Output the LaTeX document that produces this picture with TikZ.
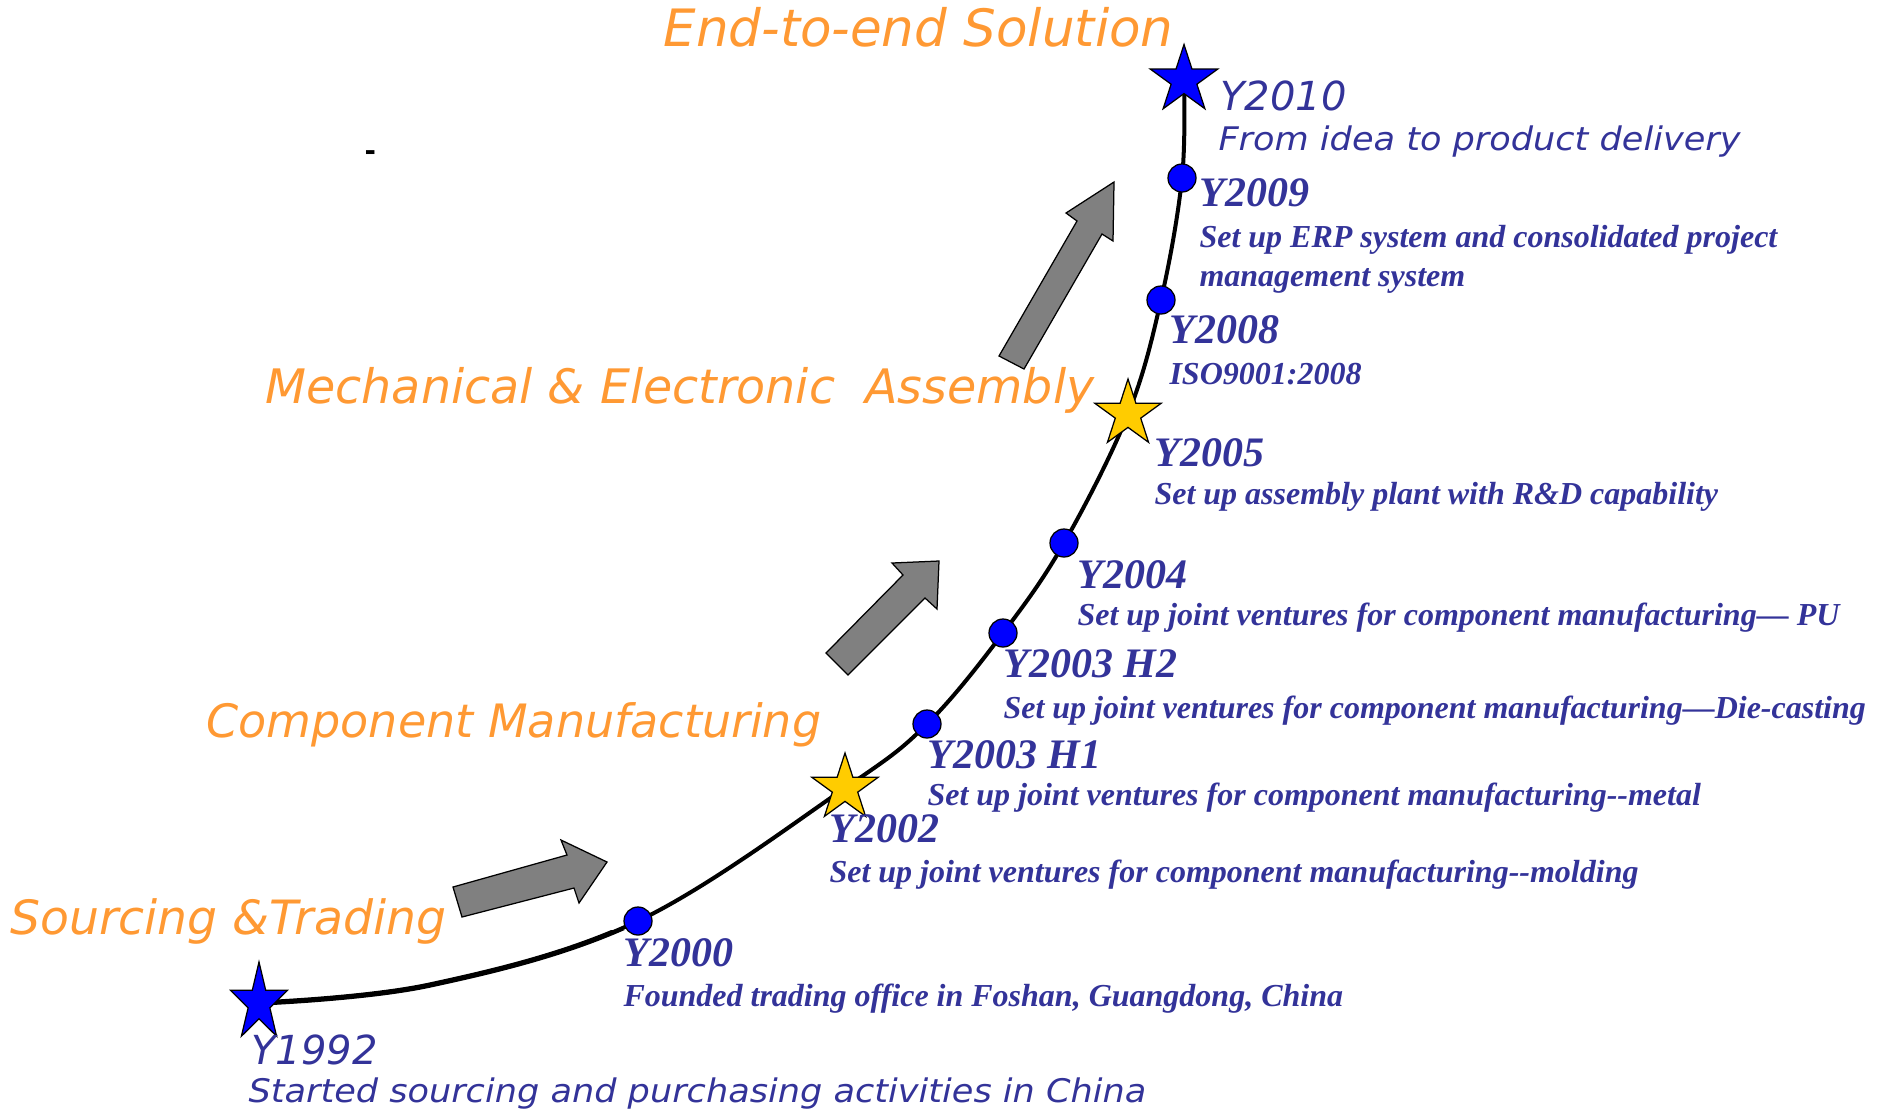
\documentclass[tikz,border=0pt]{standalone}
\usepackage{fontspec}
\setmainfont{Liberation Serif}
\newfontfamily\dvsans{DejaVu Sans}
\usetikzlibrary{shapes.geometric}
\definecolor{txtblue}{HTML}{333399}
\definecolor{orng}{HTML}{FF9933}
\definecolor{dotblue}{HTML}{0000FF}
\definecolor{stargold}{HTML}{FFCC00}
\definecolor{arrgray}{HTML}{808080}
\begin{document}
\begin{tikzpicture}[x=0.4pt,y=-0.4pt,
  yearlbl/.style={anchor=base west, inner sep=0pt, text=txtblue, font=\fontsize{16.8}{16.8}\selectfont\bfseries\itshape},
  desclbl/.style={anchor=base west, inner sep=0pt, text=txtblue, align=left, font=\fontsize{12.8}{15.6}\selectfont\bfseries\itshape},
  sansyear/.style={anchor=base west, inner sep=0pt, text=txtblue, font=\dvsans\fontsize{16}{16}\selectfont\itshape},
  sansdesc/.style={anchor=base west, inner sep=0pt, text=txtblue, xscale=1.08, font=\dvsans\fontsize{13}{13}\selectfont\itshape},
  phase/.style={anchor=base west, inner sep=0pt, text=orng, font=\dvsans\fontsize{#1}{#1}\selectfont\itshape},
  milestone/.style={circle, draw=black, line width=0.5pt, fill=dotblue, inner sep=0pt, minimum size=11.2pt},
  starmark/.style={star, star points=5, star point ratio=2.618, draw=black, line width=0.5pt, inner sep=0pt},
  bluestar/.style={starmark, fill=dotblue},
  goldstar/.style={starmark, fill=stargold},
  blockarrow/.style={fill=arrgray, draw=black, line width=0.5pt, line join=miter},
  timeline/.style={line width=1.6pt, draw=black}
]
\useasboundingbox (0,0) rectangle (1877,1108);

% positions along the time line
\coordinate (p1992) at (259,1003);
\coordinate (c1) at (430,985);
\coordinate (p2000) at (638,921);
\coordinate (p2002) at (845,788);
\coordinate (pH1) at (927,724);
\coordinate (pH2) at (1003,633);
\coordinate (p2004) at (1064,543);
\coordinate (p2005) at (1128,414);
\coordinate (p2008) at (1161,300);
\coordinate (p2009) at (1182,178);
\coordinate (p2010) at (1184,80);

\draw[timeline] plot[smooth, tension=0.6] coordinates {(p1992) (c1) (p2000) (p2002) (pH1) (pH2) (p2004) (p2005) (p2008) (p2009) (p2010)};
% the first stretch of the line is drawn heavier
\begin{scope}
  \clip (200,930) rectangle (640,1060);
  \draw[timeline, line width=2.1pt] plot[smooth, tension=0.6] coordinates {(p1992) (c1) (p2000) (p2002) (pH1) (pH2) (p2004) (p2005) (p2008) (p2009) (p2010)};
\end{scope}

% block arrows
\draw[blockarrow] (453,887) -- (567,855) -- (561,840) -- (607,862) -- (579,903) -- (574,888) -- (462,917) -- cycle;
\draw[blockarrow] (826,653) -- (903,575) -- (892,563) -- (939,561) -- (937,609) -- (925,598) -- (848,675) -- cycle;
\draw[blockarrow] (999,356) -- (1077,221) -- (1066,213) -- (1114,182) -- (1113,241) -- (1102,234) -- (1024,369) -- cycle;

% markers
\node[bluestar, minimum size=32.8pt, xscale=0.73] (s1992) at (p1992) {};
\node[milestone] (d2000) at (p2000) {};
\node[goldstar, minimum size=28pt] (s2002) at (p2002) {};
\node[milestone] (dH1) at (pH1) {};
\node[milestone] (dH2) at (pH2) {};
\node[milestone] (d2004) at (p2004) {};
\node[goldstar, minimum size=28pt] (s2005) at (p2005) {};
\node[milestone] (d2008) at (p2008) {};
\node[milestone] (d2009) at (p2009) {};
\node[bluestar, minimum size=28.4pt] (s2010) at (p2010) {};

% phase titles
\node[phase=20.6] (tEnd) at (663,46) {End-to-end Solution};
\node[phase=19.0] (tMech) at (265,403) {Mechanical \& Electronic\ \ Assembly};
\node[phase=18.4] (tComp) at (206,737) {Component Manufacturing};
\node[phase=18.9] (tSrc) at (10,934) {Sourcing \&Trading};

% stray mark
\node[anchor=base west, inner sep=0pt, font=\dvsans\bfseries\fontsize{11}{11}\selectfont] (dash) at (364,160) {-};

% labels
\node[sansyear] (y2010) at (1220,110) {Y2010};
\node[sansdesc] (l2010) at (1218,150) {From idea to product delivery};
\node[yearlbl] (y2009) at (1199,206) {Y2009};
\node[desclbl] (l2009) at (1199,286) {Set up ERP system and consolidated project\\management system};
\node[yearlbl] (y2008) at (1169,343) {Y2008};
\node[desclbl] (l2008) at (1169,384) {ISO9001:2008};
\node[yearlbl] (y2005) at (1154,466) {Y2005};
\node[desclbl] (l2005) at (1154,504) {Set up assembly plant with R\&D capability};
\node[yearlbl] (y2004) at (1077,588) {Y2004};
\node[desclbl] (l2004) at (1077,625) {Set up joint ventures for component manufacturing— PU};
\node[yearlbl] (yH2) at (1003,677) {Y2003 H2};
\node[desclbl] (lH2) at (1003,718) {Set up joint ventures for component manufacturing—Die-casting};
\node[yearlbl] (yH1) at (927,768) {Y2003 H1};
\node[desclbl] (lH1) at (927,805) {Set up joint ventures for component manufacturing-{}-metal};
\node[yearlbl] (y2002) at (829,842) {Y2002};
\node[desclbl] (l2002) at (829,882) {Set up joint ventures for component manufacturing-{}-molding};
\node[yearlbl] (y2000) at (623,966) {Y2000};
\node[desclbl] (l2000) at (623,1006) {Founded trading office in Foshan, Guangdong, China};
\node[sansyear] (y1992) at (251,1064) {Y1992};
\node[sansdesc] (l1992) at (248,1102) {Started sourcing and purchasing activities in China};
\end{tikzpicture}
\end{document}
